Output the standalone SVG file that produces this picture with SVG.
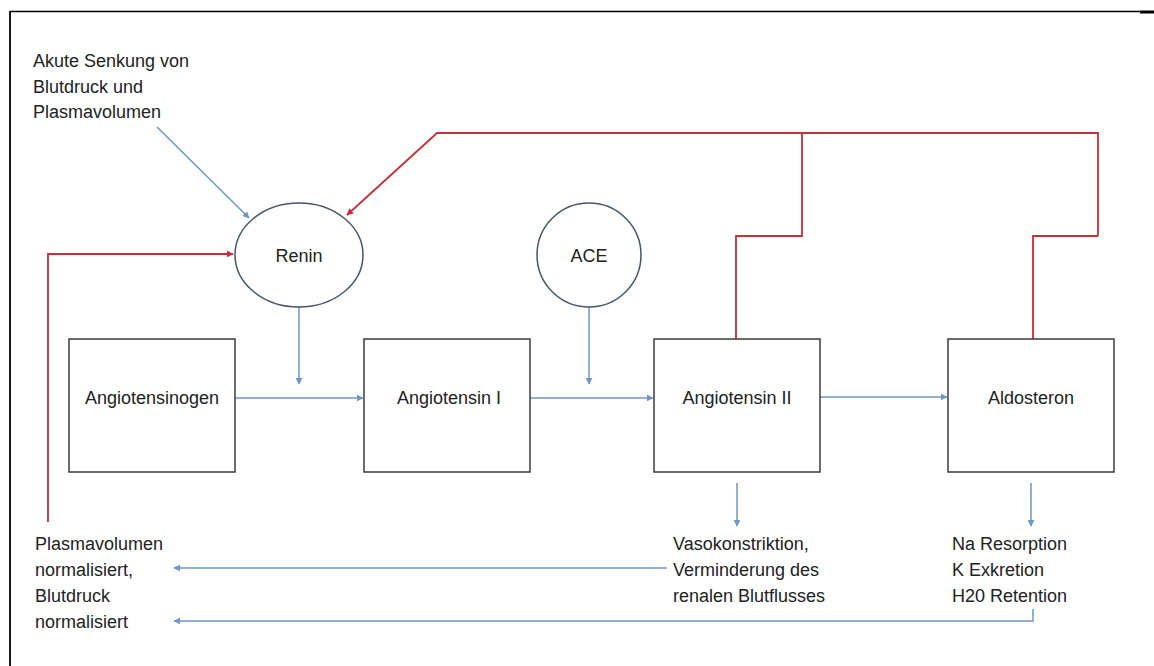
<svg xmlns="http://www.w3.org/2000/svg" width="1154" height="666" viewBox="0 0 1154 666">
<defs>
<style>
.lbl{font-family:"Liberation Sans",Arial,sans-serif;font-size:18px;fill:#222}
.box{fill:#fff;stroke:#3c3c3c;stroke-width:1.5}
.ell{fill:#fff;stroke:#45566e;stroke-width:1.5}
.blue{fill:none;stroke:#6f97c2;stroke-width:1.5}
.red{fill:none;stroke:#c5303a;stroke-width:1.8}
</style>
<marker id="ab" viewBox="0 0 10 10" refX="9" refY="5" markerWidth="7" markerHeight="7" markerUnits="userSpaceOnUse" orient="auto"><path d="M0,0 L10,5 L0,10 z" fill="#6f97c2"/></marker>
<marker id="ar" viewBox="0 0 10 10" refX="9" refY="5" markerWidth="7" markerHeight="7" markerUnits="userSpaceOnUse" orient="auto"><path d="M0,0 L10,5 L0,10 z" fill="#c5303a"/></marker>
</defs>
<rect width="1154" height="666" fill="#fff"/>
<g id="frame">
<line x1="10" y1="11.5" x2="1140" y2="11.5" stroke="#000" stroke-width="1.5"/>
<rect x="1140" y="10.5" width="14" height="3" fill="#000"/>
<line x1="10" y1="11" x2="10" y2="666" stroke="#000" stroke-width="1.8"/>
</g>
<g id="connectors">
<line class="blue" x1="157" y1="127" x2="249" y2="218" marker-end="url(#ab)"/>
<polyline class="red" points="1098,236 1098,133 437,133 347,215" marker-end="url(#ar)"/>
<polyline class="red" points="802,133 802,236 736,236 736,339"/>
<polyline class="red" points="1033,339 1033,236 1098,236"/>
<polyline class="red" points="48,522 48,254 233,254" marker-end="url(#ar)"/>
<line class="blue" x1="299" y1="307" x2="299" y2="384" marker-end="url(#ab)"/>
<line class="blue" x1="589" y1="307" x2="589" y2="384" marker-end="url(#ab)"/>
<line class="blue" x1="235" y1="398" x2="363" y2="398" marker-end="url(#ab)"/>
<line class="blue" x1="530" y1="398" x2="653" y2="398" marker-end="url(#ab)"/>
<line class="blue" x1="820" y1="397" x2="947" y2="397" marker-end="url(#ab)"/>
<line class="blue" x1="737" y1="483" x2="737" y2="526" marker-end="url(#ab)"/>
<line class="blue" x1="1031" y1="483" x2="1031" y2="526" marker-end="url(#ab)"/>
<line class="blue" x1="667" y1="568" x2="174" y2="568" marker-end="url(#ab)"/>
<polyline class="blue" points="1033,609 1033,621 174,621" marker-end="url(#ab)"/>
</g>
<g id="akute">
<text class="lbl" x="33" y="67">Akute Senkung von</text>
<text class="lbl" x="33" y="92.5">Blutdruck und</text>
<text class="lbl" x="33" y="118">Plasmavolumen</text>
</g>
<g id="renin">
<ellipse class="ell" cx="299" cy="255" rx="64" ry="52"/>
<text class="lbl" x="299" y="262" text-anchor="middle">Renin</text>
</g>
<g id="ace">
<ellipse class="ell" cx="589" cy="255" rx="52" ry="52"/>
<text class="lbl" x="589" y="262" text-anchor="middle">ACE</text>
</g>
<g id="angiotensinogen">
<rect class="box" x="69" y="339" width="166" height="133"/>
<text class="lbl" x="152" y="404" text-anchor="middle">Angiotensinogen</text>
</g>
<g id="angiotensin1">
<rect class="box" x="364" y="339" width="166" height="133"/>
<text class="lbl" x="449" y="404" text-anchor="middle">Angiotensin I</text>
</g>
<g id="angiotensin2">
<rect class="box" x="654" y="339" width="166" height="133"/>
<text class="lbl" x="737" y="404" text-anchor="middle">Angiotensin II</text>
</g>
<g id="aldosteron">
<rect class="box" x="948" y="339" width="166" height="133"/>
<text class="lbl" x="1031" y="404" text-anchor="middle">Aldosteron</text>
</g>
<g id="vaso">
<text class="lbl" x="673" y="550">Vasokonstriktion,</text>
<text class="lbl" x="673" y="576">Verminderung des</text>
<text class="lbl" x="673" y="602">renalen Blutflusses</text>
</g>
<g id="effekte">
<text class="lbl" x="952" y="550">Na Resorption</text>
<text class="lbl" x="952" y="576">K Exkretion</text>
<text class="lbl" x="952" y="602">H20 Retention</text>
</g>
<g id="normal">
<text class="lbl" x="35" y="550">Plasmavolumen</text>
<text class="lbl" x="35" y="576">normalisiert,</text>
<text class="lbl" x="35" y="602">Blutdruck</text>
<text class="lbl" x="35" y="628">normalisiert</text>
</g>
</svg>
